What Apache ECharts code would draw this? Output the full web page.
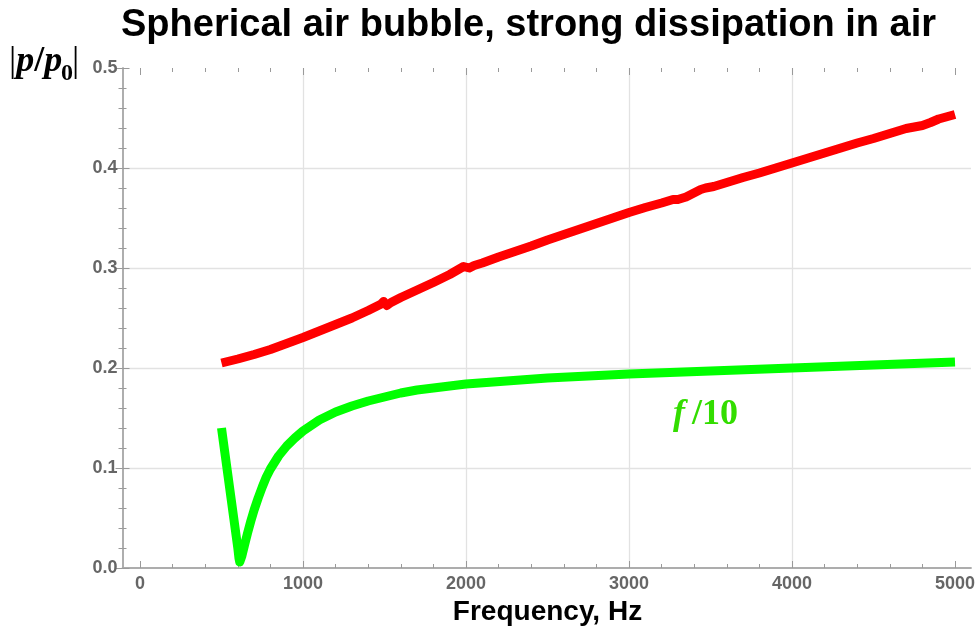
<!DOCTYPE html>
<html><head><meta charset="utf-8">
<script src="https://cdn.jsdelivr.net/npm/echarts@6/dist/echarts.min.js"></script>
<style>html,body{margin:0;padding:0;background:#fff}#c{width:979px;height:634px}</style>
</head><body><div id="c"></div>
<script>
const chartTitle = 'Spherical air bubble, strong dissipation in air';
const xAxisName = 'Frequency, Hz';
const greenLabel = ['f', '/10'];
const xTickValues = [0, 1000, 2000, 3000, 4000, 5000];
const yTickValues = [0.0, 0.1, 0.2, 0.3, 0.4, 0.5];

const redFreq = [500,600,700,800,900,1000,1100,1200,1300,1400,1480,1495,1515,1540,1600,1700,1800,1900,1985,1995,2020,2050,2100,2200,2300,2400,2500,2600,2700,2800,2900,3000,3100,3200,3240,3270,3300,3350,3440,3470,3520,3600,3700,3800,3900,4000,4100,4200,4300,4400,4500,4600,4700,4750,4800,4850,4900,5000];
const redVal  = [0.205,0.209,0.2135,0.2185,0.2245,0.2305,0.237,0.2435,0.250,0.2575,0.264,0.2665,0.2625,0.2655,0.2705,0.278,0.2855,0.2935,0.3015,0.3035,0.300,0.3025,0.305,0.311,0.3165,0.322,0.328,0.3335,0.339,0.3445,0.350,0.3555,0.3605,0.365,0.367,0.3685,0.3685,0.371,0.3785,0.380,0.3815,0.3855,0.3905,0.395,0.400,0.405,0.410,0.415,0.420,0.425,0.4295,0.4345,0.4395,0.441,0.4425,0.4455,0.449,0.4535];

const greenFreq = [500,520,540,560,575,590,600,607,612,617,625,640,660,680,700,725,750,775,800,850,900,950,1000,1100,1200,1300,1400,1500,1600,1700,1800,1900,2000,2250,2500,2750,3000,3500,4000,4500,5000];
const greenVal  = [0.140,0.116,0.092,0.068,0.050,0.032,0.020,0.010,0.006,0.007,0.012,0.022,0.035,0.047,0.058,0.070,0.081,0.091,0.099,0.112,0.122,0.130,0.137,0.148,0.156,0.162,0.167,0.171,0.175,0.178,0.180,0.182,0.184,0.187,0.190,0.192,0.194,0.197,0.200,0.203,0.206];

const zip = (a, b) => a.map((v, i) => [v, b[i]]);

const tickGray = '#9a9a9a';
const frameGray = '#a8a8a8';
const gridGray = '#e2e2e2';
const labelGray = '#666666';
const tickFont = 'Liberation Sans';

const chart = echarts.init(document.getElementById('c'), null, {renderer: 'canvas'});
const xMin = xTickValues[0], xMax = xTickValues[xTickValues.length - 1];
const yMin = yTickValues[0], yMax = yTickValues[yTickValues.length - 1];

const baseX = {
  type: 'value', min: xMin, max: xMax, interval: 1000, gridIndex: 0,
  axisLine: {show: false},
  axisTick: {show: true, inside: true, length: 7, lineStyle: {color: tickGray, width: 1}},
  minorTick: {show: true, splitNumber: 5, length: 4, lineStyle: {color: tickGray, width: 1}},
  splitLine: {show: false}, minorSplitLine: {show: false}
};

chart.setOption({
  animation: false,
  backgroundColor: '#fff',
  title: {
    text: chartTitle, left: 116, top: 2,
    textStyle: {fontFamily: 'Liberation Sans', fontWeight: 'bold', fontSize: 38, color: '#000'}
  },
  grid: [
    {left: 140, top: 68, width: 815, height: 500, containLabel: false},
    {left: 122.5, top: 68, width: 848.5, height: 500, containLabel: false}
  ],
  xAxis: [
    Object.assign({}, baseX, {
      position: 'bottom',
      axisLabel: {show: true, margin: 7, color: labelGray, fontFamily: tickFont, fontWeight: 'bold', fontSize: 18,
                  formatter: v => String(v)},
      splitLine: {show: true, showMinLine: false, showMaxLine: false, lineStyle: {color: gridGray, width: 1.3}},
      name: xAxisName, nameLocation: 'middle', nameGap: 30,
      nameTextStyle: {fontFamily: 'Liberation Sans', fontWeight: 'bold', fontSize: 28, color: '#000'}
    }),
    Object.assign({}, baseX, {position: 'top', axisLabel: {show: false}}),
    {type: 'value', gridIndex: 1, min: 0, max: 1, position: 'bottom',
     axisLine: {show: true, lineStyle: {color: frameGray, width: 1.5}},
     axisTick: {show: false}, axisLabel: {show: false}, splitLine: {show: false}},
    {type: 'value', gridIndex: 1, min: 0, max: 1, position: 'top',
     axisLine: {show: true, lineStyle: {color: frameGray, width: 1.5}},
     axisTick: {show: false}, axisLabel: {show: false}, splitLine: {show: false}}
  ],
  yAxis: [
    {type: 'value', gridIndex: 0, min: yMin, max: yMax, show: false},
    {type: 'value', gridIndex: 1, min: yMin, max: yMax, interval: 0.1, position: 'left',
     axisLine: {show: true, lineStyle: {color: frameGray, width: 1.5}},
     axisTick: {show: true, inside: true, length: 7, lineStyle: {color: tickGray}},
     minorTick: {show: true, splitNumber: 5, length: 4, lineStyle: {color: tickGray}},
     axisLabel: {show: true, margin: 5, color: labelGray, fontFamily: tickFont, fontWeight: 'bold', fontSize: 18,
                 formatter: v => v.toFixed(1)},
     splitLine: {show: true, showMinLine: false, showMaxLine: false, lineStyle: {color: gridGray, width: 1.3}}},
    {type: 'value', gridIndex: 1, min: yMin, max: yMax, interval: 0.1, position: 'right',
     axisLine: {show: true, lineStyle: {color: frameGray, width: 1.5}},
     axisTick: {show: true, inside: true, length: 7, lineStyle: {color: tickGray}},
     minorTick: {show: true, splitNumber: 5, length: 4, lineStyle: {color: tickGray}},
     axisLabel: {show: false}, splitLine: {show: false}}
  ],
  series: [
    {type: 'line', xAxisIndex: 0, yAxisIndex: 0, data: zip(redFreq, redVal), showSymbol: false, symbol: 'none',
     lineStyle: {color: '#ff0000', width: 9, cap: 'butt', join: 'round'}, z: 5},
    {type: 'line', xAxisIndex: 0, yAxisIndex: 0, data: zip(greenFreq, greenVal), showSymbol: false, symbol: 'none',
     lineStyle: {color: '#00ff00', width: 9, cap: 'butt', join: 'round'}, z: 5}
  ],
  graphic: [
    {type: 'text', x: 9, y: 62, z: 10, style: {
      text: '{a||}{b|p}{c|/}{b|p}', verticalAlign: 'middle',
      rich: {
        a: {font: 'normal 36px "Liberation Serif"', fill: '#000'},
        b: {font: 'italic bold 36px "Liberation Serif"', fill: '#000'},
        c: {font: 'normal bold 36px "Liberation Serif"', fill: '#000'}
      }}},
    {type: 'text', x: 61, y: 74, z: 10, style: {text: '0', font: 'bold 24px "Liberation Serif"', fill: '#000', verticalAlign: 'middle'}},
    {type: 'text', x: 72, y: 62, z: 10, style: {text: '|', font: 'normal 36px "Liberation Serif"', fill: '#000', verticalAlign: 'middle'}},
    {type: 'text', x: 673, y: 415, z: 10, style: {
      text: '{f|' + greenLabel[0] + '}{s|' + greenLabel[1] + '}', verticalAlign: 'middle',
      rich: {
        f: {font: 'italic bold 36px "Liberation Serif"', fill: '#33dd00', padding: [0, 7, 0, 0]},
        s: {font: 'bold 36px "Liberation Serif"', fill: '#33dd00'}
      }}}
  ]
});
</script>
</body></html>
